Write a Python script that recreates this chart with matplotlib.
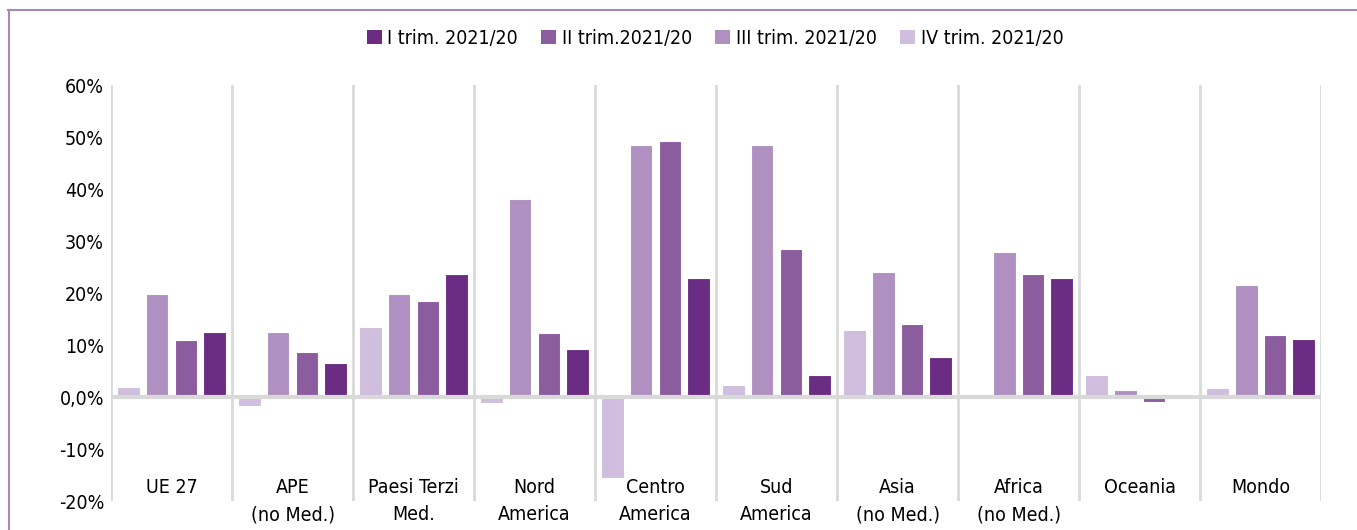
import numpy as np
import matplotlib.pyplot as plt
from matplotlib.lines import Line2D
from matplotlib.patches import Patch

plt.rcParams['font.family'] = ['DejaVu Sans']
plt.rcParams['font.stretch'] = 'condensed'

categories = ['UE 27', 'APE\n(no Med.)', 'Paesi Terzi\nMed.', 'Nord\nAmerica', 'Centro\nAmerica',
              'Sud\nAmerica', 'Asia\n(no Med.)', 'Africa\n(no Med.)', 'Oceania', 'Mondo']
series_names = ['I trim. 2021/20', 'II trim.2021/20', 'III trim. 2021/20', 'IV trim. 2021/20']
q1 = [12.5, 6.5, 23.7, 9.2, 22.8, 4.2, 7.7, 22.8, 0.0, 11.2]
q2 = [11.0, 8.7, 18.4, 12.3, 49.2, 28.4, 14.1, 23.6, -1.0, 11.9]
q3 = [19.8, 12.5, 19.9, 38.1, 48.5, 48.5, 24.0, 27.8, 1.3, 21.5]
q4 = [1.9, -1.8, 13.4, -1.2, -15.6, 2.3, 12.9, 0.4, 4.3, 1.7]
yticks = [-20, -10, 0, 10, 20, 30, 40, 50, 60]
ytick_labels = ['-20%', '-10%', '0,0%', '10%', '20%', '30%', '40%', '50%', '60%']

colors = ['#6B2D83', '#8B5C9E', '#AF90C0', '#CFBEDE']


def main():
    fig = plt.figure(figsize=(13.57, 5.30), dpi=100)
    ax = fig.add_axes([0.0818, 0.0547, 0.8917, 0.7849])

    n = len(categories)
    x = np.arange(n)
    width = 0.186
    pitch = 0.236
    # bars drawn IV, III, II, I from left to right
    drawn = [q4, q3, q2, q1]
    drawn_colors = [colors[3], colors[2], colors[1], colors[0]]
    for k, (vals, c) in enumerate(zip(drawn, drawn_colors)):
        offs = (k - 1.5) * pitch
        ax.bar(x + 0.5 + offs, vals, width, color=c, edgecolor='white', linewidth=0.8, zorder=3)

    ax.set_xlim(0, n)
    ax.set_ylim(-20, 60)
    for b in range(n + 1):
        ax.axvline(b, color='#D9D9D9', lw=2, zorder=1)
    ax.axhline(0, color='#D9D9D9', lw=3, zorder=4)

    for s in ax.spines.values():
        s.set_visible(False)
    ax.set_xticks([])
    ax.set_yticks(yticks)
    ax.set_yticklabels(ytick_labels, fontsize=14)
    ax.tick_params(axis='y', length=0, pad=5)

    for i, cat in enumerate(categories):
        ax.text(i + 0.5, -15.6, cat, ha='center', va='top', fontsize=14,
                linespacing=1.55, clip_on=False)

    handles = [Patch(facecolor=c, edgecolor='none') for c in colors]
    fig.legend(handles, series_names, loc='center', bbox_to_anchor=(0.527, 0.928),
               ncol=4, frameon=False, fontsize=14, handlelength=0.75, handleheight=0.75,
               handletextpad=0.3, columnspacing=1.2)

    # partial frame around the chart
    fig.add_artist(Line2D([8 / 1357, 1], [1 - 10 / 530, 1 - 10 / 530], color='#A688BC', lw=1.5))
    fig.add_artist(Line2D([9 / 1357, 9 / 1357], [0, 1 - 10 / 530], color='#A688BC', lw=1.5))

    fig.savefig('out.png', dpi=100)


if __name__ == '__main__':
    main()
